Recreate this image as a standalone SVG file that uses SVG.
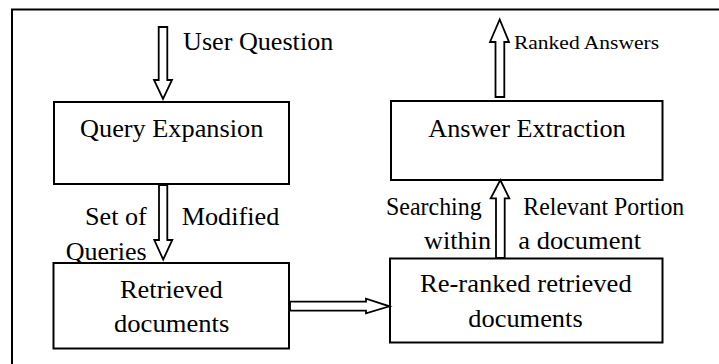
<svg xmlns="http://www.w3.org/2000/svg" width="719" height="364" viewBox="0 0 719 364">
<style>
.box{fill:#fff;stroke:#000;stroke-width:2}
.arr{fill:#fff;stroke:#000;stroke-width:1.8;stroke-linejoin:miter}
</style>
<rect width="719" height="364" fill="#fff"/>
<path d="M12,366 L12,9.5 L722,9.5" fill="none" stroke="#000" stroke-width="2"/>
<g font-family="Liberation Serif, Times New Roman, serif" font-size="26" fill="#000" lengthAdjust="spacingAndGlyphs">
<g id="query-expansion">
<rect class="box" x="54" y="102" width="235" height="82"/>
<text x="80" y="137" textLength="183.3" lengthAdjust="spacingAndGlyphs">Query Expansion</text>
</g>
<g id="answer-extraction">
<rect class="box" x="391" y="101" width="271.5" height="79"/>
<text x="428.3" y="137" textLength="197.4" lengthAdjust="spacingAndGlyphs">Answer Extraction</text>
</g>
<g id="retrieved-documents">
<rect class="box" x="53.5" y="263" width="235.5" height="85.5"/>
<text x="120" y="297.5" textLength="102.7" lengthAdjust="spacingAndGlyphs">Retrieved</text>
<text x="114" y="331.5" textLength="115.3" lengthAdjust="spacingAndGlyphs">documents</text>
</g>
<g id="reranked-documents">
<rect class="box" x="390" y="258.5" width="272.5" height="84"/>
<text x="420" y="291.5" textLength="211.7" lengthAdjust="spacingAndGlyphs">Re-ranked retrieved</text>
<text x="468.3" y="326.5" textLength="114.4" lengthAdjust="spacingAndGlyphs">documents</text>
</g>
<g id="connectors">
<polygon class="arr" points="158.7,27 167.3,27 167.3,80 172,80 163,99 154,80 158.7,80"/>
<polygon class="arr" points="159,185 167.3,185 167.3,240 172.3,240 163.2,259.5 154.3,240 159,240"/>
<polygon class="arr" points="290,301.7 366,301.7 366,298.7 389.5,306.3 366,313.3 366,310.7 290,310.7"/>
<polygon class="arr" points="496,258 496,198.3 490.7,198.3 500.3,180 509.3,198.3 504.7,198.3 504.7,258"/>
<polygon class="arr" points="495.5,97 495.5,42 490,42 499.7,19.5 509,42 504.3,42 504.3,97"/>
<text x="183" y="50" textLength="150.3" lengthAdjust="spacingAndGlyphs">User Question</text>
<text x="514" y="49" font-size="19" textLength="145" lengthAdjust="spacingAndGlyphs">Ranked Answers</text>
<text x="85" y="225" textLength="61.7" lengthAdjust="spacingAndGlyphs">Set of</text>
<text x="65.7" y="260" textLength="81" lengthAdjust="spacingAndGlyphs">Queries</text>
<text x="181.7" y="225" textLength="97.6" lengthAdjust="spacingAndGlyphs">Modified</text>
<text x="386" y="214.5" textLength="95.7" lengthAdjust="spacingAndGlyphs">Searching</text>
<text x="424" y="248.5" textLength="67" lengthAdjust="spacingAndGlyphs">within</text>
<text x="523.3" y="214.5" textLength="161" lengthAdjust="spacingAndGlyphs">Relevant Portion</text>
<text x="518.3" y="248.5" textLength="122.7" lengthAdjust="spacingAndGlyphs">a document</text>
</g>
</g>
</svg>
